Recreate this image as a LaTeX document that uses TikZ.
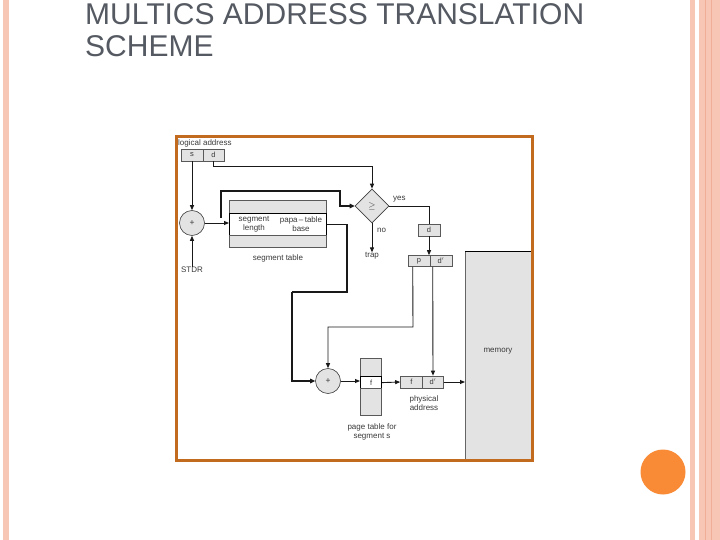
\documentclass[tikz,border=0pt]{standalone}
\usepackage{fontspec}
\setmainfont{Liberation Sans}
\usetikzlibrary{arrows.meta,shapes.geometric}
\definecolor{pinkst}{HTML}{F8C6B4}
\definecolor{pinkdk}{HTML}{F0AE98}
\definecolor{dotc}{HTML}{F98B36}
\definecolor{framec}{HTML}{C26A1E}
\definecolor{titlec}{HTML}{555A62}
\definecolor{cellg}{HTML}{E3E3E3}
\definecolor{txt}{HTML}{3A3A3A}
\begin{document}
\begin{tikzpicture}[x=1pt,y=-1pt,
  cell/.style={draw=black!65, fill=cellg, line width=0.6pt, minimum height=12pt, inner sep=0pt, font=\fontsize{7.5}{8}\selectfont, text=txt},
  lbl/.style={font=\fontsize{8}{9}\selectfont, text=txt, align=center, inner sep=0pt},
  arr/.style={-{Triangle[length=5pt,width=4pt]}, line width=0.9pt, draw=black!90},
  heavy/.style={line width=1.8pt, draw=black!90},
  heavyarr/.style={-{Triangle[length=5pt,width=4.5pt]}, line width=1.6pt, draw=black!90},
  adder/.style={circle, draw=black!75, fill=cellg, line width=0.6pt, minimum size=25pt, inner sep=0pt, font=\fontsize{8.5}{8.5}\selectfont, text=txt}
]
\useasboundingbox (0,0) rectangle (720,540);
\fill[white] (0,0) rectangle (720,540);
% slide decoration
\fill[pinkst] (3,0) rectangle (9,540);
\fill[pinkst] (690,0) rectangle (695,540);
\fill[pinkst] (699,0) rectangle (720,540);
\draw[pinkdk, line width=0.8pt] (705,0) -- (705,540);
\draw[pinkdk, line width=0.8pt] (711,0) -- (711,540);
\fill[dotc] (663,472) circle (22.5);
% title
\node[anchor=base west, font=\fontsize{30}{35}\selectfont, text=titlec, inner sep=0pt] (title1) at (85,25) {MULTICS ADDRESS TRANSLATION};
\node[anchor=base west, font=\fontsize{30}{35}\selectfont, text=titlec, inner sep=0pt] (title2) at (85,57) {SCHEME};
% memory
\node[fill=cellg, minimum width=66pt, minimum height=208pt, anchor=north west, inner sep=0pt] (mem) at (465,251) {};
\draw[black!60, line width=0.5pt] (mem.south west) -- (mem.north west);
\draw[black, line width=0.8pt] (mem.north west) -- (mem.north east);
\node[lbl] (memlbl) at (498,351) {memory};
% logical address
\node[lbl, anchor=west] (lalbl) at (178,143) {logical address};
\node[cell, minimum width=22pt] (s) at (192,155) {s};
\node[cell, minimum width=21pt] (d) at (213.5,155) {d};
% adder 1 and STDR
\node[adder] (add1) at (192,223) {+};
\node[lbl, font=\fontsize{8}{8}\selectfont] (stdr) at (192,270) {STDR};
% segment table
\node[cell, minimum width=97pt, minimum height=13pt, anchor=north west] (st1) at (229,200) {};
\node[draw=black, fill=white, line width=1.2pt, minimum width=97pt, minimum height=22pt, anchor=north west, inner sep=0pt] (st2) at (229,213) {};
\node[cell, minimum width=97pt, minimum height=12pt, anchor=north west] (st3) at (229,235) {};
\node[lbl] (seglen) at (254,224) {segment\\length};
\node[lbl] (ptbase) at (301,224) {papa\,–\,table\\base};
\node[lbl] (stlbl) at (278,258) {segment table};
% comparator
\node[diamond, aspect=1, draw=black!75, fill=cellg, line width=0.6pt, minimum width=34pt, minimum height=34pt, inner sep=0pt, font=\fontsize{9}{9}\selectfont, text=txt] (cmp) at (372,206) {$\geq$};
\node[lbl, anchor=west] (yes) at (393,199) {yes};
\node[lbl, anchor=west] (no) at (377,230) {no};
\node[lbl] (trap) at (372,256) {trap};
\node[cell, minimum width=22pt] (dbox) at (429,230) {d};
\node[cell, minimum width=22pt, minimum height=11pt] (pp) at (419,261) {p};
\node[cell, minimum width=22pt, minimum height=11pt] (dp) at (441,261) {d$'$};
% adder 2, page table
\node[adder] (add2) at (328,381) {+};
\node[cell, minimum width=21pt, minimum height=18pt, anchor=north west] (pt1) at (360,358) {};
\node[draw=black, fill=white, line width=1.2pt, minimum width=21pt, minimum height=12pt, anchor=north west, inner sep=0pt, font=\fontsize{7.5}{8}\selectfont, text=txt] (pt2) at (360,376) {f};
\node[cell, minimum width=21pt, minimum height=27pt, anchor=north west] (pt3) at (360,388) {};
\node[lbl] (ptlbl) at (372,432) {page table for\\segment s};
\node[cell, minimum width=22pt] (fd1) at (411.5,382) {f};
\node[cell, minimum width=21pt] (fd2) at (433,382) {d$'$};
\node[lbl] (physlbl) at (424,403) {physical\\address};
% frame
\draw[framec, line width=3pt] (176,137) rectangle (532,460);
% connectors
\coordinate (dturn) at (213.5,166);
\draw[arr] (d.south) -- (dturn) -| (cmp.north);
\draw[arr] (s.south) -- (add1.north);
\draw[arr] (stdr.north) -- (add1.south);
\draw[arr] (add1.east) -- (add1.east -| st2.west);
\coordinate (lentap) at (221,218);
\coordinate (lenup) at (221,191);
\coordinate (lenright) at (340,191);
\draw[heavyarr] (lentap) -- (lenup) -- (lenright) |- (cmp.west);
\draw[line width=0.9pt, draw=black!90] (cmp.east) -| (dbox.north);
\draw[arr] (dbox.south) -- (dbox.south |- pp.north);
\draw[arr] (cmp.south) -- (trap.north);
\coordinate (b1) at (347,292);
\coordinate (b2) at (292,292);
\draw[heavy] (st2.east) -| (b1) -- (b2);
\draw[-{Triangle[length=5pt,width=4.5pt]}, line width=1.3pt, draw=black!90] (b2) |- (add2.west);
\coordinate (c3) at (413,327);
\draw[arr] ([xshift=5pt]pp.south west) -- (c3) -| (add2.north);
\draw[arr] ([xshift=3pt]dp.south west) -- (fd2.north);
\draw[arr] (add2.east) -- (add2.east -| pt2.west);
\draw[arr] (pt2.east) -- (fd1.west);
\draw[arr] (fd2.east) -- (fd2.east -| mem.west);
\end{tikzpicture}
\end{document}
